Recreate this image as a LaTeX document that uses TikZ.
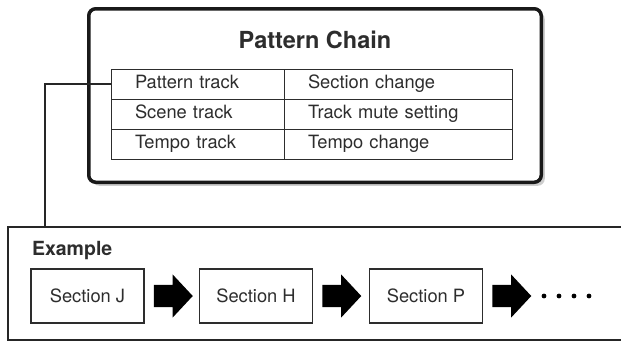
\documentclass[tikz,border=0pt]{standalone}
\usepackage{fontspec}
\setmainfont{TeX Gyre Heros}
\usepackage{tikz}
\usetikzlibrary{shapes.arrows,shadows,positioning}
\definecolor{inkgray}{RGB}{45,45,45}
\definecolor{shadowgray}{RGB}{205,205,205}

\begin{document}
\begin{tikzpicture}[x=1pt, y=-1pt,
    font=\fontsize{18.3}{21}\selectfont, text=inkgray,
    chainbox/.style={rectangle, draw=black!90, fill=white, line width=3.5pt, rounded corners=7pt,
                minimum width=452.5pt, minimum height=173.5pt,
                drop shadow={shadow xshift=3.5pt, shadow yshift=-3.5pt, fill=shadowgray, opacity=1}},
    cell/.style={rectangle, draw=inkgray, line width=0.9pt, inner xsep=24pt, inner ysep=0pt,
                minimum height=30pt, text height=13pt, text depth=4pt, align=left},
    sect/.style={rectangle, draw=inkgray, line width=1.1pt, minimum width=113pt, minimum height=54pt},
    blk/.style={single arrow, fill=black, inner xsep=0pt, inner ysep=11pt, minimum height=39pt,
                single arrow head extend=10.5pt, single arrow tip angle=94},
    conn/.style={draw=black!85, line width=1.6pt}]
    \useasboundingbox (0,0) rectangle (621,341);
    % pattern chain box with its table
    \node[chainbox] (chain) at (315,95.5) {};
    \node[font=\bfseries\fontsize{23.5}{27}\selectfont] (title) at (315,40) {Pattern Chain};
    \node[cell, text width=125pt] (p1) at (197.5,84) {Pattern track};
    \node[cell, text width=125pt] (p2) at (197.5,114) {Scene track};
    \node[cell, text width=125pt] (p3) at (197.5,144) {Tempo track};
    \node[cell, text width=180pt] (q1) at (398,84) {Section change};
    \node[cell, text width=180pt] (q2) at (398,114) {Track mute setting};
    \node[cell, text width=180pt] (q3) at (398,144) {Tempo change};
    % example frame, open to the right
    \draw[conn] (621,227) -- (8,227) -- (8,340) -- (621,340);
    \coordinate (drop) at (45,227);
    \draw[conn] (p1.west) -| (drop);
    \node[font=\bfseries\fontsize{19.5}{22}\selectfont, anchor=base west, inner sep=0pt] (ex) at (32,255) {Example};
    \node[sect] (sj) at (87.5,296) {Section J};
    \node[blk, right=9pt of sj] (a1) {};
    \node[sect] (sh) at (256,296) {Section H};
    \node[blk, right=9pt of sh] (a2) {};
    \node[sect] (sp) at (426,296) {Section P};
    \node[blk, right=9pt of sp] (a3) {};
    \foreach \x in {544,559,574,589}
        \fill[black] (\x,296) circle (2.4pt);
\end{tikzpicture}
\end{document}
